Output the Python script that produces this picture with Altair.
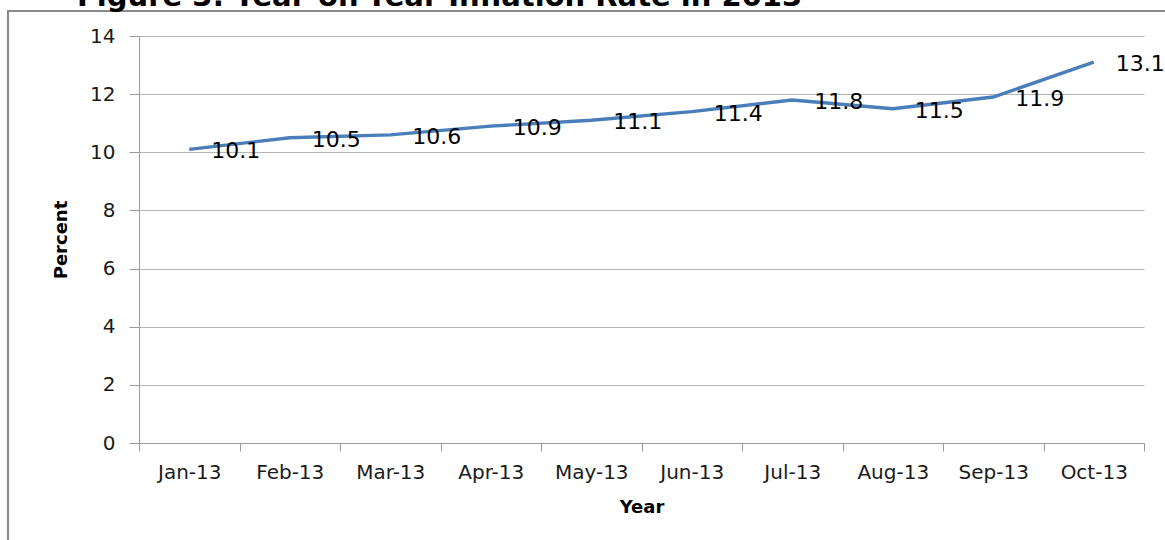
import altair as alt
import pandas as pd

# Year-on-year inflation, monthly, 2013
months = ["Jan-13", "Feb-13", "Mar-13", "Apr-13", "May-13",
          "Jun-13", "Jul-13", "Aug-13", "Sep-13", "Oct-13"]
rates = [10.1, 10.5, 10.6, 10.9, 11.1, 11.4, 11.8, 11.5, 11.9, 13.1]
y_ticks = [0, 2, 4, 6, 8, 10, 12, 14]
title_text = "Figure 3:  Year-on-Year Inflation Rate in 2013"

df = pd.DataFrame({
    "month": months,
    "rate": rates,
    "label": [f"{v:.1f}" for v in rates],
})

W, H = 1005, 407
PAD = {"left": 139, "top": 36, "right": 21, "bottom": 97}

TICK_FONT = "DejaVu Sans"
BOLD_FONT = "DejaVu Sans"
GRID = "#B4B4B4"
AXIS = "#9A9A9A"
LINE = "#4A7EBB"

x_enc = alt.X(
    "month:N",
    sort=months,
    bandPosition=0.5,
    scale=alt.Scale(type="band", paddingInner=0, paddingOuter=0),
    axis=alt.Axis(
        title="Year",
        tickBand="extent",
        labelAngle=0,
        labelFont=TICK_FONT,
        labelFontSize=20,
        labelColor="#1a1a1a",
        labelPadding=11,
        tickSize=8,
        tickColor=AXIS,
        domainColor=AXIS,
        titleFont=BOLD_FONT,
        titleFontSize=18,
        titleFontWeight="bold",
        titleColor="#000000",
        titleX=W / 2,
        titleY=64,
        titleBaseline="middle",
        grid=False,
    ),
)

y_enc = alt.Y(
    "rate:Q",
    scale=alt.Scale(domain=[0, 14], nice=False, zero=True),
    axis=alt.Axis(
        title="Percent",
        values=y_ticks,
        labelFont=TICK_FONT,
        labelFontSize=20,
        labelColor="#1a1a1a",
        labelPadding=14,
        tickSize=10,
        tickColor=AXIS,
        domainColor=AXIS,
        grid=True,
        gridColor=GRID,
        gridWidth=1,
        titleFont=BOLD_FONT,
        titleFontSize=18,
        titleFontWeight="bold",
        titleColor="#000000",
        titleX=-78,
        titleY=H / 2,
        titleAngle=270,
        titleBaseline="middle",
    ),
)

base = alt.Chart(df)

line = base.mark_line(color=LINE, strokeWidth=3.4).encode(x=x_enc, y=y_enc)

values = base.mark_text(
    align="left", baseline="middle", dx=22, dy=2,
    font="DejaVu Sans", fontSize=22, color="#000000",
).encode(x=x_enc, y=y_enc, text="label:N")

# outer frame of the figure (left and top edges show)
frame = alt.Chart(pd.DataFrame({"k": [0]})).mark_rect(
    fill="white", fillOpacity=0, stroke="#8A8A8A", strokeWidth=2.2
).encode(
    x=alt.value(-131), x2=alt.value(W + 60),
    y=alt.value(-25), y2=alt.value(H + 150),
)

heading = alt.Chart(pd.DataFrame({"t": [title_text]})).mark_text(
    align="left", baseline="alphabetic",
    font=BOLD_FONT, fontSize=29, fontWeight="bold", color="#000000",
).encode(x=alt.value(-62), y=alt.value(-30), text="t:N")

chart = alt.layer(frame, line, values, heading).properties(
    width=W, height=H,
    autosize=alt.AutoSizeParams(type="none"),
    padding=PAD,
    background="white",
).configure_view(strokeWidth=0)

chart.save("out.html", embed_options={"renderer": "svg", "actions": False})
